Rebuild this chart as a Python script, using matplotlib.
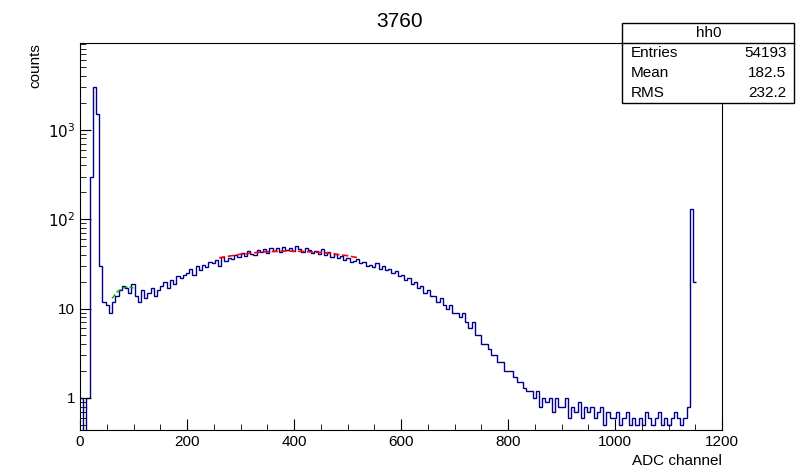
import numpy as np
import matplotlib
matplotlib.use('Agg')
import matplotlib.pyplot as plt
from matplotlib.ticker import FixedLocator, NullFormatter, LogLocator

plt.rcParams['font.family'] = 'Liberation Sans'

title = '3760'
bin_width = 6
counts = [
    1, 0.3, 1, 300, 3000, 1500, 30, 12, 11, 9, 12, 14, 16, 18, 17, 15, 19,
    14, 12, 16, 13, 15, 17, 14, 16,
    18, 20, 17, 21, 19, 23, 22, 24,
    25, 28, 24, 30, 27, 31, 29, 33,
    32, 35, 30, 38, 34, 37, 36, 40,
    38, 42, 39, 44, 41, 40, 45, 43,
    46, 42, 48, 44, 47, 43, 49, 45,
    47, 44, 50, 46, 43, 48, 45, 42,
    44, 41, 46, 40, 43, 38, 41, 37,
    39, 35, 37, 33, 34, 36, 32, 33,
    30, 31, 29, 32, 28, 30, 27, 28,
    25, 26, 23, 24, 21, 22, 19, 20,
    17, 18, 15, 16, 14, 14, 12, 13,
    11, 10, 11, 9, 9, 8, 9, 7,
    6, 7, 5, 5, 4, 4, 3.5, 3,
    3, 2.5, 2.5, 2, 2, 2, 1.7, 1.5,
    1.5, 1.3, 1.2, 1.2, 1, 1.2, 0.8, 1,
    0.9, 1, 0.7, 1, 0.8, 0.8, 1, 0.6,
    0.8, 0.7, 0.9, 0.6, 0.8, 0.7, 0.8, 0.6,
    0.7, 0.8, 0.5, 0.7, 0.6, 0.6, 0.7, 0.5,
    0.6, 0.7, 0.5, 0.6, 0.5, 0.6, 0.5, 0.7,
    0.6, 0.5, 0.6, 0.7, 0.5, 0.6, 0.5, 0.6,
    0.7, 0.6, 0.5, 0.6, 0.8, 130, 20,
]
green_x = [60, 70, 80, 90, 100]
green_y = [13, 15.5, 17, 17.5, 17]
red_x = [260, 300, 340, 380, 420, 460, 500, 520]
red_y = [37, 40.5, 43, 44, 43.5, 42, 39, 37]

stats_labels = ['Entries', 'Mean', 'RMS']
stats_values = ['54193', '182.5', '232.2']

edges = np.arange(len(counts) + 1) * bin_width
vals = np.array(counts, dtype=float)

fig = plt.figure(figsize=(8, 4.75), dpi=100)
ax = fig.add_axes([0.1, 0.095, 0.8025, 0.815])
ax.stairs(vals, edges, color='#00008b', linewidth=1.0, baseline=None)
ax.plot(green_x, green_y, color='#00aa00', linestyle='--', linewidth=1)
ax.plot(red_x, red_y, color='red', linestyle='--', linewidth=1.2)

ax.set_yscale('log')
ax.set_xlim(0, 1200)
ax.set_ylim(0.44, 9400)
ax.set_yticks([1, 10, 100, 1000])
ax.set_yticklabels(['1', '10', r'$10^{2}$', r'$10^{3}$'])
ax.yaxis.set_minor_locator(LogLocator(subs=np.arange(2, 10)))
ax.yaxis.set_minor_formatter(NullFormatter())
ax.set_xticks(np.arange(0, 1201, 200))
ax.xaxis.set_minor_locator(FixedLocator(np.arange(0, 1201, 50)))
ax.tick_params(which='both', direction='in', top=False, right=False, labelsize=11)
ax.tick_params(which='major', length=8)
ax.tick_params(which='minor', length=4)

ax.set_xlabel('ADC channel', fontsize=11, loc='right')
ax.set_ylabel('counts', fontsize=11, loc='top')
fig.text(0.5, 0.955, title, ha='center', va='center', fontsize=15)

# stats box
bx, by, bw, bh = 0.778, 0.784, 0.215, 0.168
fig.patches.append(plt.Rectangle((bx, by), bw, bh, transform=fig.transFigure,
                                 facecolor='white', edgecolor='black', linewidth=1))
row = bh / 4
fig.lines.append(plt.Line2D([bx, bx + bw], [by + 3 * row] * 2, transform=fig.transFigure,
                            color='black', linewidth=1))
fig.text(bx + bw / 2, by + 3.5 * row, 'hh0', ha='center', va='center', fontsize=11)
for i, (lab, v) in enumerate(zip(stats_labels, stats_values)):
    yy = by + (2.5 - i) * row
    fig.text(bx + 0.01, yy, lab, ha='left', va='center', fontsize=11)
    fig.text(bx + bw - 0.01, yy, v, ha='right', va='center', fontsize=11)

fig.savefig('out.png', dpi=100)
